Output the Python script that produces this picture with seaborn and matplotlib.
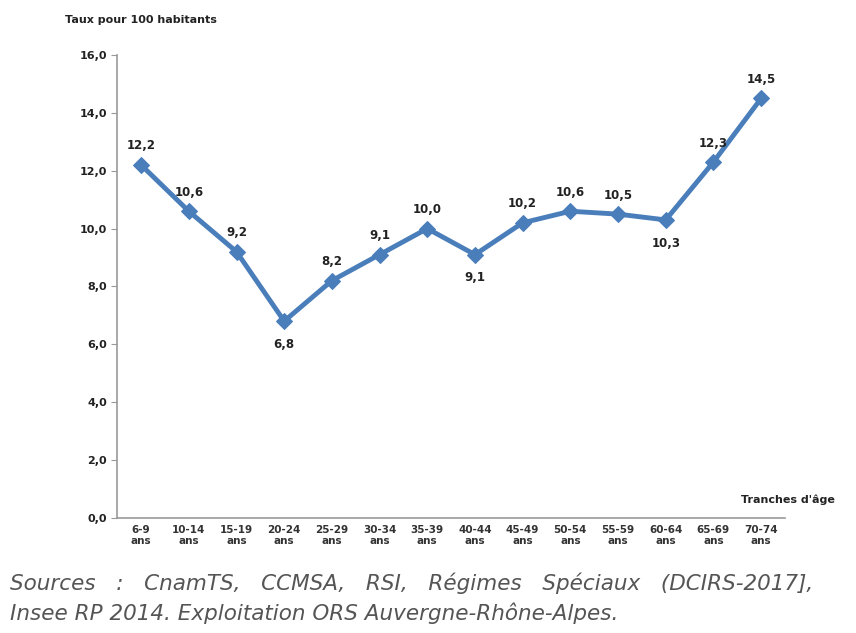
import matplotlib
matplotlib.use("Agg")
import matplotlib.pyplot as plt
import seaborn as sns
import numpy as np
import pandas as pd

# donnees
tranches = ["6-9", "10-14", "15-19", "20-24", "25-29", "30-34", "35-39",
            "40-44", "45-49", "50-54", "55-59", "60-64", "65-69", "70-74"]
taux = [12.2, 10.6, 9.2, 6.8, 8.2, 9.1, 10.0, 9.1, 10.2, 10.6, 10.5, 10.3, 12.3, 14.5]
en_dessous = ["20-24", "40-44", "60-64"]

df = pd.DataFrame({"tranche": tranches, "taux": taux})
df["x"] = range(len(df))

sns.set_style("white")
plt.rcParams["font.family"] = ["DejaVu Sans"]

fig = plt.figure(figsize=(8.56, 6.33), dpi=100)
ax = fig.add_axes([0.137, 0.182, 0.780, 0.731])

couleur = "#4a7ebb"
sns.lineplot(data=df, x="x", y="taux", ax=ax, color=couleur, linewidth=3.5,
             marker="D", markersize=8, markeredgecolor=couleur)

for _, r in df.iterrows():
    txt = f"{r['taux']:.1f}".replace(".", ",")
    if r["tranche"] in en_dessous:
        ax.annotate(txt, (r["x"], r["taux"]), xytext=(0, -12), textcoords="offset points",
                    ha="center", va="top", fontsize=8.5, fontweight="bold", color="#222222")
    else:
        ax.annotate(txt, (r["x"], r["taux"]), xytext=(0, 9), textcoords="offset points",
                    ha="center", va="bottom", fontsize=8.5, fontweight="bold", color="#222222")

ax.set_ylim(0, 16)
ax.set_xlim(-0.44, 13.48)
ax.set_yticks(np.arange(0, 16.1, 2))
ax.set_yticklabels([f"{v:.1f}".replace(".", ",") for v in np.arange(0, 16.1, 2)],
                   fontsize=8, fontweight="bold", color="#222222")
ax.set_xticks(df["x"])
ax.set_xticklabels([t.replace("-", "\u2011") + "\nans" for t in tranches],
                   fontsize=7.5, fontweight="bold", color="#333333", linespacing=1.15)
ax.tick_params(axis="x", length=0, pad=5)
ax.set_xticks(np.arange(-0.5, 13.6, 1), minor=True)
ax.tick_params(axis="x", which="minor", length=4, color="#999999", direction="out")
ax.tick_params(axis="y", length=4, color="#999999", direction="out", left=True)
ax.set_xlabel("")
ax.set_ylabel("")

for s in ["top", "right"]:
    ax.spines[s].set_visible(False)
for s in ["left", "bottom"]:
    ax.spines[s].set_color("#999999")
    ax.spines[s].set_linewidth(1.2)

fig.text(65 / 856, 1 - 20 / 633, "Taux pour 100 habitants", fontsize=8, fontweight="bold",
         color="#222222", va="center")
fig.text(835 / 856, 1 - 500 / 633, "Tranches d'âge", fontsize=8, fontweight="bold",
         color="#222222", va="center", ha="right")

fig.text(10 / 856, 1 - 583 / 633,
         "Sources   :   CnamTS,   CCMSA,   RSI,   Régimes   Spéciaux   (DCIRS-2017],",
         fontsize=15.5, style="italic", color="#555555", va="center")
fig.text(10 / 856, 1 - 613 / 633,
         "Insee RP 2014. Exploitation ORS Auvergne-Rhône-Alpes.",
         fontsize=15.5, style="italic", color="#555555", va="center")

fig.savefig("out.png", dpi=100, facecolor="white")
